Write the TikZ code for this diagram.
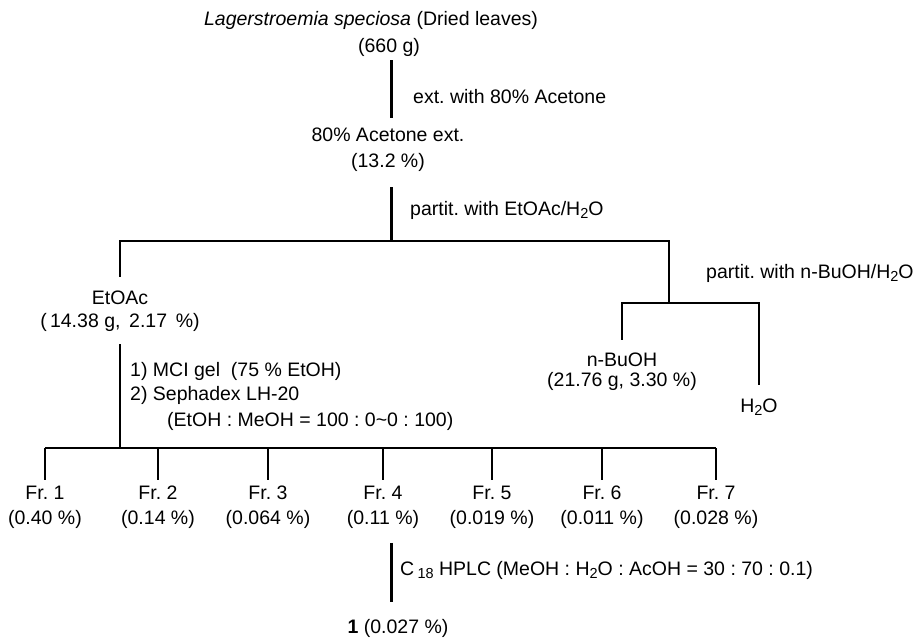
\documentclass[tikz,border=0pt]{standalone}
\usepackage{fontspec}
\setmainfont{Liberation Sans}
\frenchspacing
\newcommand{\lowsub}[1]{\raisebox{-0.35ex}{\fontsize{14.5}{14.5}\selectfont #1}}

\begin{document}
\begin{tikzpicture}[x=1pt, y=-1pt,
  lbl/.style={font=\fontsize{19.5}{#1}\selectfont, align=center, inner sep=0pt},
  lbl/.default=24,
  note/.style={font=\fontsize{19.5}{23.5}\selectfont, align=left, inner sep=0pt, anchor=west},
  link/.style={line width=2.9pt},
  thinlink/.style={line width=2.2pt}]
  \useasboundingbox (0,0) rectangle (919,640);

  % Junctions
  \coordinate (split) at (391.5,241);
  \coordinate (split2) at (669,303);
  \coordinate (frbar) at (0,448);

  % Extraction
  \node[lbl=27] (plant) at (371,33.5) {\textit{Lagerstroemia speciosa} (Dried leaves)\\\hspace*{36pt}(660 g)};
  \node[lbl=26] (acetone) at (388,150) {80\% Acetone ext.\\(13.2 \%)};
  \node[note] (extlbl) at (413,97) {ext. with 80\% Acetone};
  \draw[link, shorten <=4pt, shorten >=10pt] (split |- plant.south) -- (split |- acetone.north);

  % First partition
  \node[note] (partlbl) at (410,210) {partit. with EtOAc/H\lowsub{2}O};
  \node[lbl=23] (etoac) at (120,311.5) {EtOAc\\(\,14.38 g,\ \,2.17\ \,\%)};
  \draw[link, shorten <=15pt] (split |- acetone.south) -- (split);
  \draw[link, shorten <=14pt] (etoac.north) -- (etoac.north |- split) -- (split2 |- split) -- (split2);

  % Second partition
  \node[note] (partbulbl) at (706,273) {partit. with n-BuOH/H\lowsub{2}O};
  \node[lbl=20] (buoh) at (622,372) {n-BuOH\\(21.76 g, 3.30 \%)};
  \node[lbl] (water) at (759,407) {H\lowsub{2}O};
  \draw[link, shorten <=13pt, shorten >=13pt] (buoh.north) -- (buoh.north |- split2) -- (water.north |- split2) -- (water.north);

  % Column chromatography
  \node[note] (sepnote) at (130,396.5) {1) MCI gel\ \ (75 \% EtOH)\\2) Sephadex LH-20\\[3pt]\hspace*{37pt}(EtOH : MeOH = 100 : 0\textasciitilde 0 : 100)};
  \foreach \x/\i/\p in {45/1/0.40, 158/2/0.14, 268/3/0.064, 383/4/0.11, 492/5/0.019, 602/6/0.011, 716/7/0.028}
    \node[lbl=25] (fr\i) at (\x,507.5) {Fr. \i\\(\p\ \%)};
  \draw[link, shorten <=12pt] (etoac.south) -- (etoac.south |- frbar);
  \draw[link] (fr1.north |- frbar) -- (fr7.north |- frbar);
  \foreach \i in {1,...,7}
    \draw[link, shorten >=6pt] (fr\i.north |- frbar) -- (fr\i.north);

  % HPLC
  \node[note] (hplclbl) at (400,570) {C\,\lowsub{18} HPLC (MeOH : H\lowsub{2}O\ : AcOH = 30 : 70 : 0.1)};
  \node[lbl] (cpd) at (398,628) {\textbf{1} (0.027 \%)};
  \draw[thinlink, shorten <=14pt, shorten >=17pt] (fr4.south -| split) -- (cpd.north -| split);
\end{tikzpicture}
\end{document}
